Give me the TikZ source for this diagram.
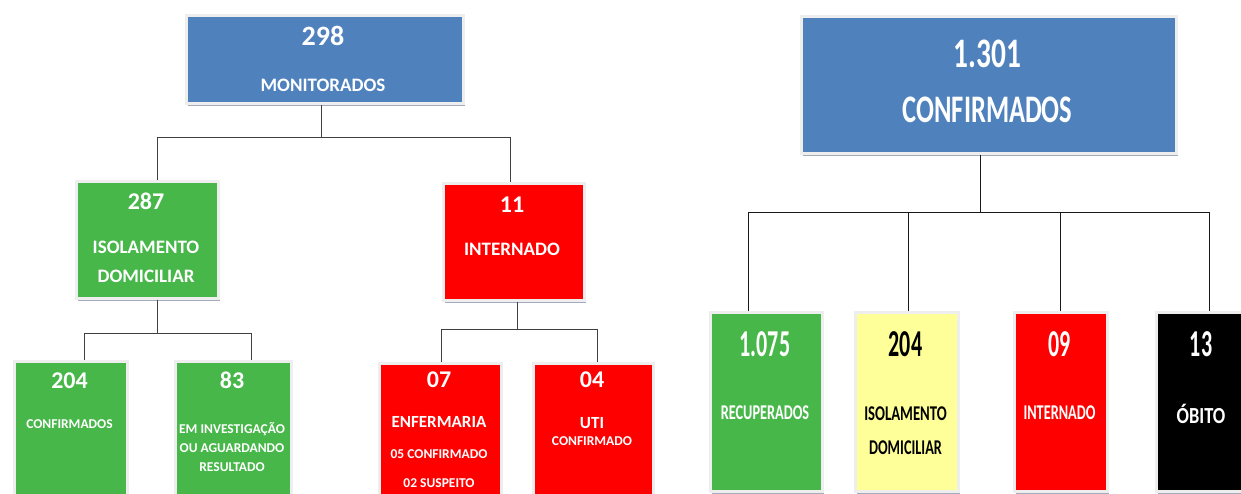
\documentclass[tikz,border=0pt]{standalone}
\usepackage{fontspec}
\setmainfont{Carlito}
\usetikzlibrary{shadows,calc}
\definecolor{cblue}{HTML}{4F81BD}
\definecolor{cgreen}{HTML}{47B749}
\definecolor{cred}{HTML}{FF0000}
\definecolor{cyel}{HTML}{FFFF99}
\definecolor{cframe}{HTML}{EEEEEE}
\definecolor{cshadow}{HTML}{9AA3B5}
\newcommand{\sq}[2]{\scalebox{#1}[1]{#2}}
\tikzset{
  box/.style={draw=cframe, line width=2.5pt, inner sep=0pt, anchor=north west,
    drop shadow={shadow xshift=2pt, shadow yshift=-2.5pt, fill=cshadow, opacity=0.9}},
  conn/.style={draw=black!75, line width=1.1pt},
  connr/.style={draw=black!90, line width=1.1pt},
  lbl/.style={inner sep=0pt, anchor=base, font=\bfseries, text=white},
  big/.style={lbl, font=\bfseries\fontsize{28}{30}\selectfont},
  mid/.style={lbl, font=\bfseries\fontsize{24}{26}\selectfont},
  lab/.style={lbl, font=\bfseries\fontsize{19}{21}\selectfont},
  sml/.style={lbl, font=\bfseries\fontsize{13.5}{15}\selectfont},
  enfl/.style={lbl, font=\bfseries\fontsize{17}{19}\selectfont},
  rnum/.style={lbl, font=\bfseries\fontsize{38}{40}\selectfont},
  rlab/.style={lbl, font=\bfseries\fontsize{21}{23}\selectfont},
}
\begin{document}
\begin{tikzpicture}[x=1pt,y=-1pt]
\useasboundingbox (0,0) rectangle (1241,493);
\clip (0,0) rectangle (1241,493);
% ---------- left tree ----------
\node[box, fill=cblue, minimum width=277pt, minimum height=88pt] (mon) at (185,14) {};
\node[box, fill=cgreen, minimum width=142pt, minimum height=117pt] (iso) at (75,180) {};
\node[box, fill=cred, minimum width=141pt, minimum height=117pt] (int) at (442,182) {};
\node[box, fill=cgreen, minimum width=113pt, minimum height=140pt] (c204) at (13,360) {};
\node[box, fill=cgreen, minimum width=116pt, minimum height=140pt] (i83) at (174,360) {};
\node[box, fill=cred, minimum width=122pt, minimum height=140pt] (enf) at (378,362) {};
\node[box, fill=cred, minimum width=120pt, minimum height=140pt] (uti) at (532,362) {};

\draw[conn] ([xshift=-3.5pt]mon.south) -- ++(0,33) coordinate (j1) -| ([xshift=10pt]iso.north);
\draw[conn] (j1) -| ([xshift=-3.5pt]int.north);
\draw[conn] ([xshift=10pt]iso.south) -- ++(0,34) coordinate (j2) -| ([xshift=13.5pt]c204.north);
\draw[conn] (j2) -| ([xshift=18pt]i83.north);
\draw[conn] ([xshift=3.5pt]int.south) -- ++(0,28) coordinate (j3) -| ([xshift=1pt]enf.north);
\draw[conn] (j3) -| ([xshift=4pt]uti.north);

\node[big] (t298) at (323,45) {298};
\node[lab] (tmon) at (323,91) {MONITORADOS};
\node[mid] (t287) at (146,209) {287};
\node[lab] (tiso1) at (146,253) {ISOLAMENTO};
\node[lab] (tiso2) at (146,282) {DOMICILIAR};
\node[mid] (t11) at (512,212) {11};
\node[lab] (tint) at (512,255) {INTERNADO};
\node[mid] (t204) at (69.5,388) {204};
\node[sml] (tc204) at (69.5,428) {CONFIRMADOS};
\node[mid] (t83) at (232,388) {83};
\node[sml] (ti1) at (232,433) {EM INVESTIGAÇÃO};
\node[sml] (ti2) at (232,452) {OU AGUARDANDO};
\node[sml] (ti3) at (232,471) {RESULTADO};
\node[mid] (t07) at (439,387) {07};
\node[enfl] (te1) at (439,427) {ENFERMARIA};
\node[sml] (te2) at (439,458) {05 CONFIRMADO};
\node[sml] (te3) at (439,487) {02 SUSPEITO};
\node[mid] (t04) at (592,387) {04};
\node[enfl] (tu1) at (592,428) {UTI};
\node[sml] (tu2) at (592,445) {CONFIRMADO};

% ---------- right tree ----------
\node[box, fill=cblue, minimum width=375pt, minimum height=137pt] (tot) at (800,15) {};
\node[box, fill=cgreen, minimum width=112pt, minimum height=179pt] (rec) at (709,311) {};
\node[box, fill=cyel, minimum width=103pt, minimum height=179pt] (dom) at (854,311) {};
\node[box, fill=cred, minimum width=93pt, minimum height=179pt] (hos) at (1013,311) {};
\node[box, fill=black, minimum width=92pt, minimum height=179pt] (obi) at (1155,311) {};

\draw[connr] ([xshift=-8.5pt]tot.south) -- ++(0,58) coordinate (j4) -| ([xshift=-18pt]rec.north);
\draw[connr] (j4) -| ([xshift=1.5pt]dom.north);
\draw[connr] (j4) -| (hos.north);
\draw[connr] (j4) -| ([xshift=7pt]obi.north);

\node[lbl, font=\bfseries\fontsize{42}{44}\selectfont] (t1301) at (987.5,67) {\sq{0.7}{1.301}};
\node[lbl, font=\bfseries\fontsize{39}{41}\selectfont] (tconf) at (987.5,122) {\sq{0.68}{CONFIRMADOS}};
\node[rnum] (t1075) at (765,356) {\sq{0.58}{1.075}};
\node[rlab] (trec) at (765,419) {\sq{0.68}{RECUPERADOS}};
\node[rnum, text=black] (ty204) at (905.5,356) {\sq{0.58}{204}};
\node[rlab, text=black] (ty1) at (905.5,420) {\sq{0.7}{ISOLAMENTO}};
\node[rlab, text=black] (ty2) at (905.5,454) {\sq{0.68}{DOMICILIAR}};
\node[rnum] (t09) at (1059.5,356) {\sq{0.58}{09}};
\node[rlab] (thos) at (1059.5,419) {\sq{0.68}{INTERNADO}};
\node[rnum] (t13) at (1201,356) {\sq{0.58}{13}};
\node[lbl, font=\bfseries\fontsize{23}{25}\selectfont] (tobi) at (1201,423) {\sq{0.8}{ÓBITO}};
\end{tikzpicture}
\end{document}
